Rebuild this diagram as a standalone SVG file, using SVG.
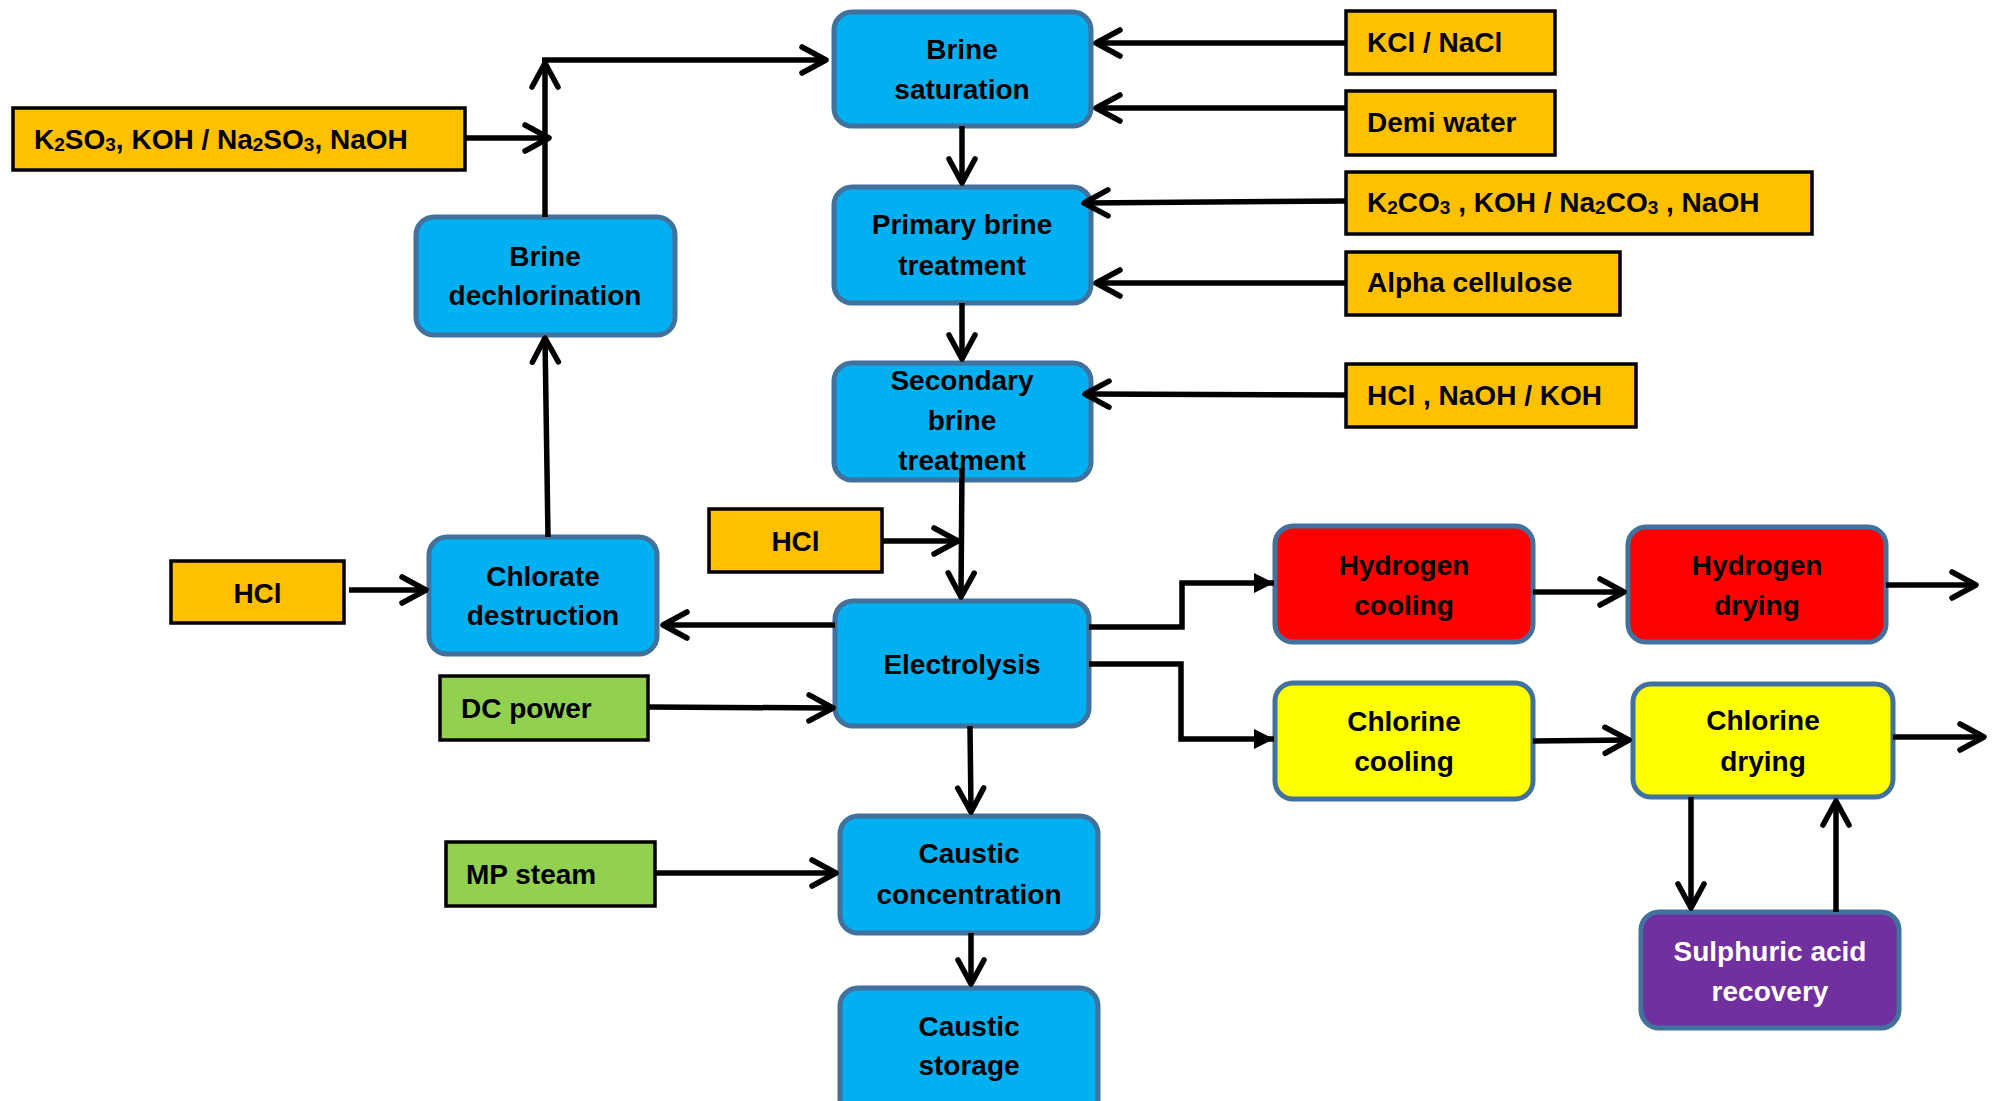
<svg xmlns="http://www.w3.org/2000/svg" width="1996" height="1101" viewBox="0 0 1996 1101">
<style>
.proc rect{stroke:#41719C;stroke-width:5}
.blue rect{fill:#00B0F0}
.red rect{fill:#FF0000}
.yellow rect{fill:#FFFF00}
.purple rect{fill:#7030A0}
.inp rect{stroke:#000;stroke-width:3.5}
.orange rect{fill:#FFC000}
.green rect{fill:#92D050}
text{font-family:"Liberation Sans",Arial,sans-serif;font-weight:bold;font-size:28px;fill:#000}
.proc text{text-anchor:middle}
.purple text{fill:#fff}
.c text{text-anchor:middle}
#connectors line,#connectors polyline{stroke:#000;stroke-width:5.5;fill:none}
</style>
<defs>
<marker id="arr" markerUnits="userSpaceOnUse" viewBox="-30 -16 34 32" markerWidth="34" markerHeight="32" refX="0" refY="0" orient="auto" overflow="visible">
<path d="M -24 -13 L 0 0 L -24 13" fill="none" stroke="#000" stroke-width="5.5" stroke-linecap="round" stroke-linejoin="round"/>
</marker>
<marker id="tri" markerUnits="userSpaceOnUse" viewBox="-22 -11 24 22" markerWidth="24" markerHeight="22" refX="0" refY="0" orient="auto" overflow="visible">
<path d="M -20 -10 L 0 0 L -20 10 Z" fill="#000"/>
</marker>
</defs>
<rect width="1996" height="1101" fill="#fff"/>

<g id="brine-saturation" class="proc blue"><rect x="834" y="12" width="257" height="114" rx="18"/><text x="962" y="59">Brine</text><text x="962" y="99">saturation</text></g>
<g id="primary-brine-treatment" class="proc blue"><rect x="834" y="187" width="257" height="116" rx="18"/><text x="962" y="234">Primary brine</text><text x="962" y="275">treatment</text></g>
<g id="secondary-brine-treatment" class="proc blue"><rect x="834" y="363" width="257" height="117" rx="18"/><text x="962" y="390">Secondary</text><text x="962" y="430">brine</text><text x="962" y="470">treatment</text></g>
<g id="brine-dechlorination" class="proc blue"><rect x="416" y="217" width="259" height="118" rx="18"/><text x="545" y="266">Brine</text><text x="545" y="305">dechlorination</text></g>
<g id="chlorate-destruction" class="proc blue"><rect x="429" y="537" width="228" height="117" rx="18"/><text x="543" y="586">Chlorate</text><text x="543" y="625">destruction</text></g>
<g id="electrolysis" class="proc blue"><rect x="835" y="601" width="254" height="125" rx="18"/><text x="962" y="674">Electrolysis</text></g>
<g id="caustic-concentration" class="proc blue"><rect x="840" y="816" width="258" height="117" rx="18"/><text x="969" y="863">Caustic</text><text x="969" y="904">concentration</text></g>
<g id="caustic-storage" class="proc blue"><rect x="840" y="988" width="258" height="130" rx="18"/><text x="969" y="1036">Caustic</text><text x="969" y="1075">storage</text></g>
<g id="hydrogen-cooling" class="proc red"><rect x="1275" y="526" width="258" height="116" rx="18"/><text x="1404" y="575">Hydrogen</text><text x="1404" y="615">cooling</text></g>
<g id="hydrogen-drying" class="proc red"><rect x="1628" y="527" width="258" height="115" rx="18"/><text x="1757" y="575">Hydrogen</text><text x="1757" y="615">drying</text></g>
<g id="chlorine-cooling" class="proc yellow"><rect x="1275" y="683" width="258" height="116" rx="18"/><text x="1404" y="731">Chlorine</text><text x="1404" y="771">cooling</text></g>
<g id="chlorine-drying" class="proc yellow"><rect x="1633" y="684" width="260" height="113" rx="18"/><text x="1763" y="730">Chlorine</text><text x="1763" y="771">drying</text></g>
<g id="sulphuric-acid-recovery" class="proc purple"><rect x="1641" y="912" width="258" height="116" rx="18"/><text x="1770" y="961">Sulphuric acid</text><text x="1770" y="1001">recovery</text></g>

<g id="k2so3-input" class="inp orange"><rect x="13" y="108" width="452" height="62"/><text x="34" y="149">K<tspan font-size="19" dy="2">2</tspan><tspan dy="-2">SO</tspan><tspan font-size="19" dy="2">3</tspan><tspan dy="-2">, KOH / Na</tspan><tspan font-size="19" dy="2">2</tspan><tspan dy="-2">SO</tspan><tspan font-size="19" dy="2">3</tspan><tspan dy="-2">, NaOH</tspan></text></g>
<g id="kcl-nacl" class="inp orange"><rect x="1346" y="11" width="209" height="63"/><text x="1367" y="52">KCl / NaCl</text></g>
<g id="demi-water" class="inp orange"><rect x="1346" y="91" width="209" height="64"/><text x="1367" y="132">Demi water</text></g>
<g id="k2co3-input" class="inp orange"><rect x="1346" y="172" width="466" height="62"/><text x="1367" y="212">K<tspan font-size="19" dy="2">2</tspan><tspan dy="-2">CO</tspan><tspan font-size="19" dy="2">3</tspan><tspan dy="-2"> , KOH / Na</tspan><tspan font-size="19" dy="2">2</tspan><tspan dy="-2">CO</tspan><tspan font-size="19" dy="2">3</tspan><tspan dy="-2"> , NaOH</tspan></text></g>
<g id="alpha-cellulose" class="inp orange"><rect x="1346" y="252" width="274" height="63"/><text x="1367" y="292">Alpha cellulose</text></g>
<g id="hcl-naoh-koh" class="inp orange"><rect x="1346" y="364" width="290" height="63"/><text x="1367" y="405">HCl , NaOH / KOH</text></g>
<g id="hcl-left" class="inp orange c"><rect x="171" y="561" width="173" height="62"/><text x="257.5" y="603">HCl</text></g>
<g id="hcl-mid" class="inp orange c"><rect x="709" y="509" width="173" height="63"/><text x="795.5" y="551">HCl</text></g>
<g id="dc-power" class="inp green"><rect x="440" y="676" width="208" height="64"/><text x="461" y="718">DC power</text></g>
<g id="mp-steam" class="inp green"><rect x="446" y="842" width="209" height="64"/><text x="466" y="884">MP steam</text></g>

<g id="connectors">
<line x1="545" y1="217" x2="545" y2="63" marker-end="url(#arr)"/>
<line x1="542" y1="60" x2="826" y2="60" marker-end="url(#arr)"/>
<line x1="465" y1="138" x2="549" y2="138" marker-end="url(#arr)"/>
<line x1="548" y1="537" x2="545" y2="338" marker-end="url(#arr)"/>
<line x1="1346" y1="43" x2="1096" y2="43" marker-end="url(#arr)"/>
<line x1="1346" y1="108" x2="1096" y2="108" marker-end="url(#arr)"/>
<line x1="1346" y1="201" x2="1084" y2="203" marker-end="url(#arr)"/>
<line x1="1346" y1="283" x2="1096" y2="283" marker-end="url(#arr)"/>
<line x1="1346" y1="395" x2="1085" y2="394" marker-end="url(#arr)"/>
<line x1="962" y1="126" x2="962" y2="183" marker-end="url(#arr)"/>
<line x1="962" y1="303" x2="962" y2="359" marker-end="url(#arr)"/>
<line x1="962" y1="468" x2="961" y2="597" marker-end="url(#arr)"/>
<line x1="882" y1="541" x2="958" y2="541" marker-end="url(#arr)"/>
<line x1="835" y1="625" x2="663" y2="625" marker-end="url(#arr)"/>
<line x1="648" y1="707" x2="833" y2="708" marker-end="url(#arr)"/>
<line x1="970" y1="726" x2="971" y2="812" marker-end="url(#arr)"/>
<line x1="655" y1="873" x2="836" y2="873" marker-end="url(#arr)"/>
<line x1="971" y1="933" x2="971" y2="984" marker-end="url(#arr)"/>
<line x1="349" y1="590" x2="426" y2="590" marker-end="url(#arr)"/>
<polyline points="1089,627 1182,627 1182,583 1274,583" marker-end="url(#tri)"/>
<polyline points="1089,664 1181,664 1181,739 1274,739" marker-end="url(#tri)"/>
<line x1="1533" y1="592" x2="1624" y2="592" marker-end="url(#arr)"/>
<line x1="1886" y1="585" x2="1976" y2="585" marker-end="url(#arr)"/>
<line x1="1533" y1="741" x2="1629" y2="740" marker-end="url(#arr)"/>
<line x1="1893" y1="737" x2="1984" y2="737" marker-end="url(#arr)"/>
<line x1="1691" y1="797" x2="1691" y2="908" marker-end="url(#arr)"/>
<line x1="1836" y1="912" x2="1836" y2="801" marker-end="url(#arr)"/>
</g>
</svg>
